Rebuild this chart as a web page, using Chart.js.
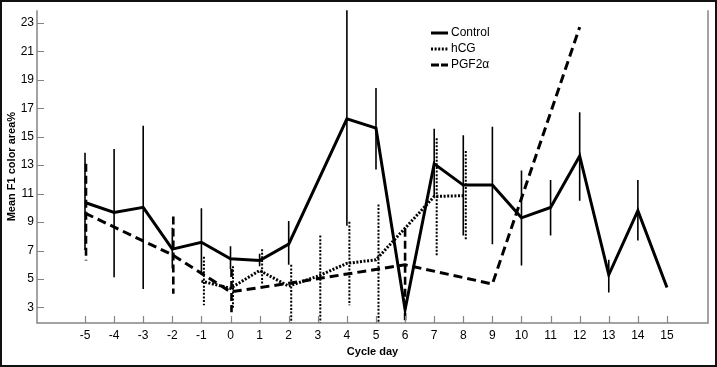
<!DOCTYPE html>
<html>
<head>
<meta charset="utf-8">
<script src="https://cdn.jsdelivr.net/npm/chart.js@4.4.1/dist/chart.umd.min.js"></script>
<style>
  html, body { margin: 0; padding: 0; background: #fff; }
  #wrap { width: 717px; height: 367px; position: relative; }
</style>
</head>
<body>
<div id="wrap"><canvas id="c" width="717" height="367"></canvas></div>
<script>
// ---- data ----
const days = [-5,-4,-3,-2,-1,0,1,2,3,4,5,6,7,8,9,10,11,12,13,14,15];
const xTickLabels = [-5,-4,-3,-2,-1,0,1,2,3,4,5,6,7,8,9,10,11,12,13,14,15];
const yTickLabels = [3,5,7,9,11,13,15,17,19,21,23];

const controlMean = [10.38, 9.68, 10.04, 7.1, 7.58, 6.42, 6.3, 7.45, null, 16.25, 15.6, 2.85, 13.1, 11.6, 11.6, 9.3, 10.03, 13.65, 5.3, 9.8, 4.4];
const controlHi   = [13.88, 14.13, 15.77, 8.6, 9.97, 7.3, 6.77, 9.08, null, 24.5, 18.43, null, 15.56, 15.1, 15.7, 12.63, 11.96, 16.72, 6.35, 11.95, null];
const controlLo   = [7.04, 5.13, 4.3, 5.74, 5.3, 5.7, 5.9, 6.0, null, 8.74, 12.7, null, 10.8, 8.05, 7.45, 5.95, 8.05, 10.5, 4.05, 7.7, null];

const hcgMean = [null, null, null, null, 4.85, 4.35, 5.6, 4.5, 5.2, 6.1, 6.35, null, 10.8, 10.86, null, null, null, null, null, null, null];
const hcgHi   = [null, null, null, null, 6.56, 5.9, 7.1, 6.0, 8.05, 9.02, 10.24, null, 14.9, 14.0, null, null, null, null, null, null, null];
const hcgLo   = [null, null, null, null, 3.15, 2.95, 4.6, 1.0, 1.0, 3.15, 1.0, null, 6.56, 7.7, null, null, null, null, null, null, null];

const pgfMean = [9.63, null, null, 6.7, null, 4.1, null, 4.7, null, null, null, 6.0, null, null, 4.65, null, null, 22.7, null, null, null];
const pgfHi   = [13.1, null, null, 9.4, null, 5.7, null, null, null, null, null, 8.54, null, null, null, null, null, null, null, null, null];
const pgfLo   = [6.3, null, null, 3.97, null, 2.67, null, null, null, null, null, 2.1, null, null, null, null, null, null, null, null, null];

const seriesNames = ['Control', 'hCG', 'PGF2\u03b1'];

// ---- styles ----
const FONT = "'Liberation Sans', Arial, sans-serif";
const styles = [
  { lineDash: [], width: 3, barDash: [], barWidth: 1.6 },
  { lineDash: [2, 1.6], width: 3, barDash: [2, 1.6], barWidth: 2 },
  { lineDash: [9, 5], width: 3, barDash: [8, 4], barWidth: 2.6 }
];
const errHi = [controlHi, hcgHi, pgfHi];
const errLo = [controlLo, hcgLo, pgfLo];
const means = [controlMean, hcgMean, pgfMean];

function pts(arr) { return days.map((d, i) => ({ x: d, y: arr[i] })); }

const decor = {
  id: 'decor',
  beforeDraw(chart) {
    const ctx = chart.ctx;
    ctx.save();
    ctx.fillStyle = '#fff';
    ctx.fillRect(0, 0, chart.width, chart.height);
    ctx.restore();
  },
  afterDatasetsDraw(chart) {
    const ctx = chart.ctx, xs = chart.scales.x, ys = chart.scales.y, a = chart.chartArea;
    ctx.save();
    ctx.beginPath();
    ctx.rect(a.left, a.top, a.right - a.left, a.bottom - a.top);
    ctx.clip();
    ctx.strokeStyle = '#000';
    for (let s = 0; s < 3; s++) {
      ctx.lineWidth = styles[s].barWidth;
      ctx.setLineDash(styles[s].barDash);
      for (let i = 0; i < days.length; i++) {
        const hi = errHi[s][i], lo = errLo[s][i];
        if (hi == null || lo == null) continue;
        const off = s === 1 ? 2.5 : (s === 2 && i !== 11 ? 1 : 0);
        const x = xs.getPixelForValue(days[i]) + off;
        ctx.beginPath();
        ctx.moveTo(x, ys.getPixelForValue(hi));
        ctx.lineTo(x, ys.getPixelForValue(lo));
        ctx.stroke();
      }
    }
    ctx.restore();
  },
  afterDraw(chart) {
    const ctx = chart.ctx, xs = chart.scales.x, ys = chart.scales.y, a = chart.chartArea;
    ctx.save();
    // axes
    ctx.strokeStyle = '#858585';
    ctx.lineWidth = 1.5;
    ctx.setLineDash([]);
    ctx.beginPath();
    ctx.moveTo(a.left, a.top); ctx.lineTo(a.left, a.bottom); ctx.lineTo(a.right, a.bottom); ctx.lineTo(a.right, a.top);
    ctx.stroke();
    // inward ticks
    ctx.lineWidth = 1.2;
    ctx.beginPath();
    ys.ticks.forEach(t => {
      const y = Math.round(ys.getPixelForValue(t.value)) + 0.5;
      ctx.moveTo(a.left, y); ctx.lineTo(a.left + 7, y);
    });
    xs.ticks.forEach(t => {
      const x = Math.round(xs.getPixelForValue(t.value)) + 0.5;
      ctx.moveTo(x, a.bottom); ctx.lineTo(x, a.bottom - 7);
    });
    ctx.stroke();
    // legend
    const lx = 431, ly = [33, 49, 65];
    ctx.strokeStyle = '#000';
    ctx.fillStyle = '#000';
    ctx.font = '12px ' + FONT;
    ctx.textBaseline = 'middle';
    ctx.textAlign = 'left';
    for (let s = 0; s < 3; s++) {
      ctx.lineWidth = 3;
      ctx.setLineDash(s === 2 ? [8, 2] : styles[s].lineDash);
      ctx.beginPath();
      ctx.moveTo(lx, ly[s]); ctx.lineTo(lx + 17, ly[s]);
      ctx.stroke();
      ctx.fillText(seriesNames[s], lx + 20, ly[s]);
    }
    // outer border
    ctx.setLineDash([]);
    ctx.lineWidth = 2;
    ctx.strokeStyle = '#111';
    ctx.strokeRect(1, 1, chart.width - 2, chart.height - 2);
    ctx.restore();
  }
};

new Chart(document.getElementById('c'), {
  type: 'line',
  data: {
    datasets: [0, 1, 2].map(s => ({
      label: seriesNames[s],
      data: pts(means[s]),
      borderColor: '#000',
      borderWidth: styles[s].width,
      borderDash: styles[s].lineDash,
      pointRadius: 0,
      fill: false,
      tension: 0,
      spanGaps: true
    }))
  },
  options: {
    responsive: false,
    animation: false,
    layout: { padding: { top: 1, right: 9, bottom: 0, left: 0 } },
    plugins: { legend: { display: false }, tooltip: { enabled: false } },
    scales: {
      x: {
        type: 'linear',
        min: -6.65, max: 16.41,
        grid: { display: false, drawTicks: false },
        border: { display: false },
        afterBuildTicks: sc => { sc.ticks = xTickLabels.map(v => ({ value: v })); },
        ticks: { color: '#000', font: { family: FONT, size: 12 }, padding: 5, maxRotation: 0, autoSkip: false },
        title: { display: true, text: 'Cycle day', color: '#000', font: { family: FONT, size: 11, weight: 'bold' }, padding: { top: 0, bottom: 8 } },
        afterFit: sc => { sc.height = 44; }
      },
      y: {
        type: 'linear',
        min: 1.91, max: 23.89,
        grid: { display: false, drawTicks: false },
        border: { display: false },
        afterBuildTicks: sc => { sc.ticks = yTickLabels.map(v => ({ value: v })); },
        ticks: { color: '#000', font: { family: FONT, size: 12 }, padding: 3, autoSkip: false },
        title: { display: true, text: 'Mean F1 color area%', color: '#000', font: { family: FONT, size: 11, weight: 'bold' }, padding: { top: 5, bottom: 0 } },
        afterFit: sc => { sc.width = 37; }
      }
    }
  },
  plugins: [decor]
});
</script>
</body>
</html>
